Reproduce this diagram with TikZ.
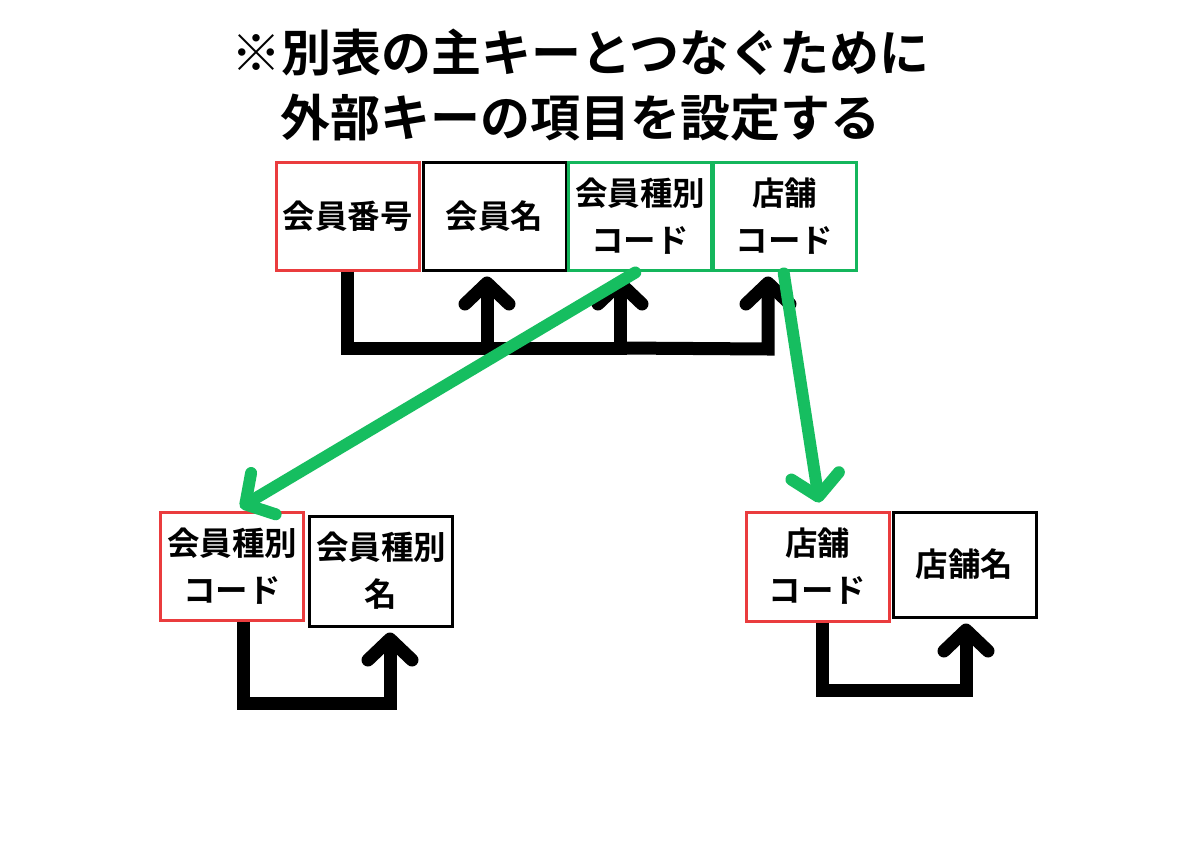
\documentclass[tikz,border=0pt]{standalone}
\usepackage{fontspec}
\setmainfont{Noto Sans CJK JP}[BoldFont=* Bold]
\usetikzlibrary{arrows.meta}
\definecolor{kred}{RGB}{234,60,62}
\definecolor{kgreen}{RGB}{20,182,92}
\definecolor{kline}{RGB}{22,190,96}
\tikzset{
  box/.style={draw, line width=3pt, minimum width=143pt, minimum height=108pt, inner sep=0pt,
    align=center, font=\bfseries\fontsize{32.5}{47}\selectfont},
  redbox/.style={box, draw=kred},
  blkbox/.style={box, draw=black},
  grnbox/.style={box, draw=kgreen},
  blk/.style={line width=13pt, line join=miter, -{Straight Barb[length=21pt,width=44pt,round]}, shorten >=5pt},
  grn/.style={draw=kline, line width=12pt, line cap=round, -{Straight Barb[length=21pt,width=48pt,round]}},
  ttl/.style={font=\bfseries\fontsize{50}{58}\selectfont, inner sep=0pt}
}
\begin{document}
\begin{tikzpicture}[x=1pt,y=-1pt]
\useasboundingbox (0,0) rectangle (1200,857);
\fill[white] (0,0) rectangle (1200,857);
% title
\node[ttl] (t1) at (580,52) {※別表の主キーとつなぐために};
\node[ttl] (t2) at (580,118) {外部キーの項目を設定する};
% top row
\node[redbox] (n1) at (347.5,216) {会員番号};
\node[blkbox] (n2) at (494.5,216) {会員名};
\node[grnbox] (n3) at (640,216) {会員種別\\コード};
\node[grnbox] (n4) at (784.5,216) {店舗\\コード};
% bottom left
\node[redbox] (b1) at (232,566) {会員種別\\コード};
\node[blkbox, minimum height=110pt] (b2) at (381,571) {会員種別\\名};
% bottom right
\node[redbox, minimum height=109pt] (c1) at (817.5,566.5) {店舗\\コード};
\node[blkbox, minimum height=105pt] (c2) at (964.5,564.5) {店舗名};
% top connectors
\coordinate (j1) at (347.5,348);
\coordinate (j2) at (487,348);
\coordinate (j3) at (620,348);
\coordinate (j4) at (768,349);
\draw[blk] (n1.south) -- (j1) -- (j3) -- (n3.south -| j3);
\draw[blk] (j2) -- (n2.south -| j2);
\draw[blk] (j3) -- (j4) -- (n4.south -| j4);
% bottom left connector
\coordinate (k1) at (243,703);
\coordinate (k2) at (390,703);
\draw[blk] (b1.south -| k1) -- (k1) -- (k2) -- (b2.south -| k2);
% bottom right connector
\coordinate (m1) at (822,690);
\coordinate (m2) at (966,690);
\draw[blk] (c1.south -| m1) -- (m1) -- (m2) -- (c2.south -| m2);
% green connectors
\draw[grn, shorten <=2pt, shorten >=6pt] ([xshift=-3pt]n3.south) -- ([xshift=3pt]b1.north);
\draw[grn, shorten <=2pt, shorten >=8pt] ([xshift=-1pt]n4.south) -- ([xshift=3pt]c1.north);
\end{tikzpicture}
\end{document}
